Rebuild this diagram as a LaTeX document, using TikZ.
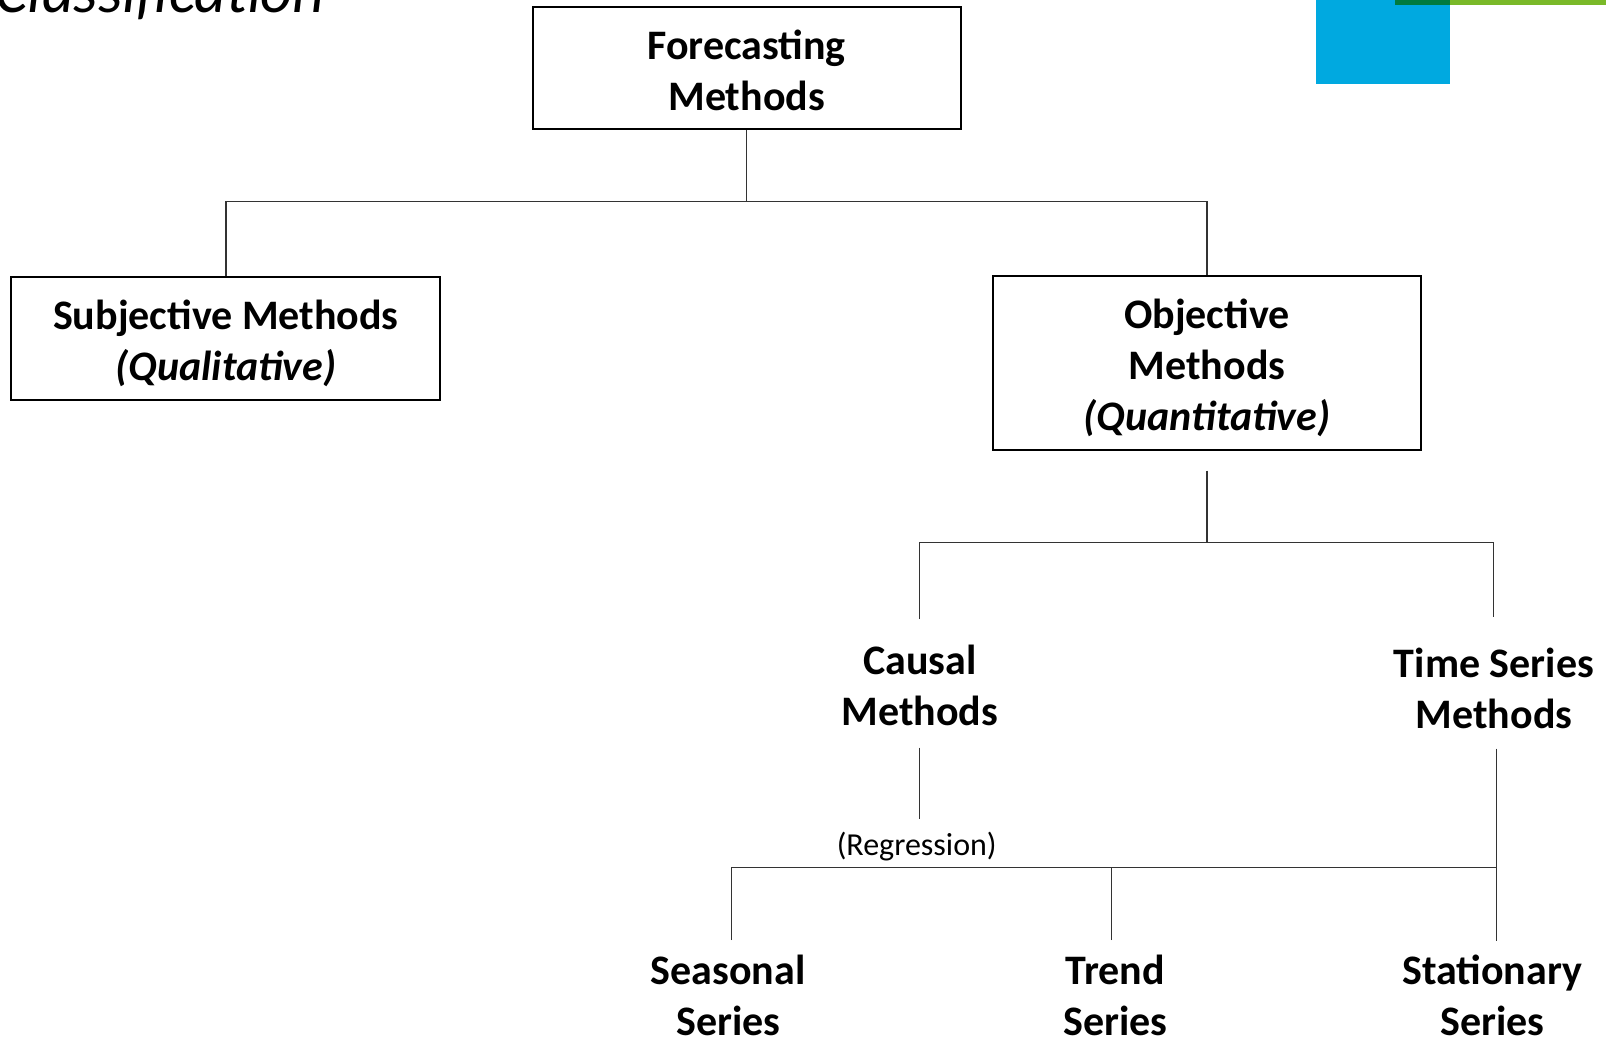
\documentclass[tikz,border=0pt]{standalone}
\usepackage{fontspec}
\setmainfont{Carlito}
\tikzset{
	box/.style={draw=black, line width=2pt, minimum width=428pt, inner sep=0pt},
	lbl/.style={inner sep=0pt, align=center, font=\fontsize{42}{51}\selectfont\bfseries},
	link/.style={line width=1.3pt, draw=black!80}
}

\begin{document}
\begin{tikzpicture}[x=1pt, y=-1pt]
        \fill[white] (0,0) rectangle (1606,1038);
        \useasboundingbox (0,0) rectangle (1606,1038);
        \fill[fill={rgb,255:red,0;green,169;blue,224}] (1316,0) rectangle (1450,84);
        \fill[fill={rgb,255:red,0;green,122;blue,61}] (1395,0) rectangle (1450,5);
        \fill[fill={rgb,255:red,122;green,185;blue,41}] (1450,0) rectangle (1606,5);
        \node[anchor=base east, inner sep=0pt, font=\fontsize{62}{74}\selectfont\itshape] (ttl) at (325,13) {Classification};

        \node[box, minimum height=122pt] (fm) at (746.6,68) {};
        \node[lbl] (fmt) at (746.6,70.6) {Forecasting\\Methods};
        \node[box, minimum width=429pt, minimum height=123pt] (sm) at (225.9,338) {};
        \node[lbl] (smt) at (225.9,343.1) {Subjective Methods\\\textit{(Qualitative)}};
        \node[box, minimum height=174pt] (om) at (1207,362.6) {};
        \node[lbl] (omt) at (1207,368.2) {Objective\\Methods\\\textit{(Quantitative)}};
        \node[lbl] (cm) at (919.7,685.7) {Causal\\Methods};
        \node[lbl] (tm) at (1494,688.8) {Time Series\\Methods};
        \node[inner sep=0pt, font=\fontsize{32}{38}\selectfont] (rg) at (916.7,847) {(Regression)};
        \node[lbl] (ss) at (728.2,995) {Seasonal\\Series};
        \node[lbl] (ts) at (1115.4,995.5) {Trend\\Series};
        \node[lbl] (st) at (1492.2,995.5) {Stationary\\Series};

        \coordinate (top) at (746.6,201.8);
        \coordinate (mid) at (1207,542.8);
        \coordinate (ca) at (919.7,619);
        \coordinate (ta) at (1493.3,616.6);
        \coordinate (cb) at (919.7,747.7);
        \coordinate (cr) at (919.7,819.4);
        \coordinate (tb) at (1496.3,748.7);
        \coordinate (bus) at (1496.3,867.5);
        \coordinate (sa) at (731.3,940.2);
        \coordinate (tra) at (1111.3,940.2);
        \coordinate (sta) at (1496.3,941.2);

        \draw[link] (fm.south) -- (top);
        \draw[link] (sm.north) |- (top) -| (om.north);
        \draw[link, shorten <=20pt] (om.south) -- (mid);
        \draw[link] (ca) |- (mid) -| (ta);
        \draw[link] (cb) -- (cr);
        \draw[link] (tb) -- (sta);
        \draw[link] (sa) |- (bus);
        \draw[link] (tra) -- (tra |- bus);
    \end{tikzpicture}
\end{document}
